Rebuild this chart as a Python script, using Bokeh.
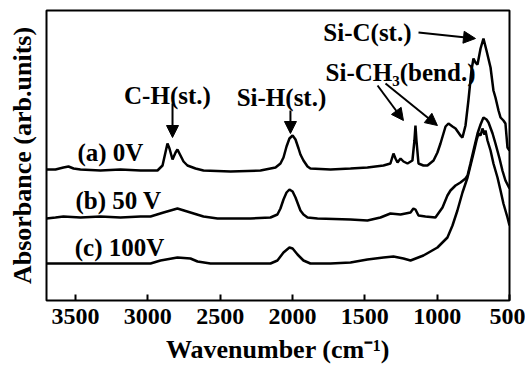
from bokeh.plotting import figure
from bokeh.models import Range1d, FixedTicker, Arrow, NormalHead, ColumnDataSource
from bokeh.core.properties import value
from bokeh.embed import file_html
from bokeh.resources import INLINE

# ---------------- data (wavenumber in cm^-1, absorbance in arb. units, offset per curve) -------------
wn_a = [3700, 3638, 3583, 3548, 3513, 3465, 3327, 3189, 3050, 2933, 2898, 2878, 2864, 2850,
        2829, 2808, 2795, 2774, 2753, 2726, 2670, 2615, 2428, 2221, 2117, 2083, 2062, 2041,
        2021, 1999, 1979, 1958, 1945, 1924, 1896, 1876, 1737, 1599, 1482, 1371, 1323, 1302,
        1288, 1274, 1253, 1233, 1205, 1171, 1157, 1150, 1143, 1129, 1095, 1067, 1025, 998,
        977, 942, 922, 894, 873, 839, 825, 804, 784, 763, 749, 735, 721, 700, 680, 659, 631,
        611, 597, 576, 562, 542, 528, 521, 514, 500]
ab_a = [131, 131, 133, 134, 132, 131, 130, 131, 130, 130, 135, 148, 157, 152,
        141, 148, 151, 145, 139, 135, 132, 130, 129, 130, 133, 137, 143, 154,
        162, 165, 161, 152, 146, 140, 134, 132, 131, 132, 133, 135, 137, 147,
        142, 138, 142, 139, 137, 140, 160, 175, 160, 137, 135, 135, 140, 148,
        157, 174, 177, 174, 172, 165, 163, 175, 200, 230, 242, 238, 236, 252, 262, 250, 233,
        210, 203, 190, 183, 180, 177, 165, 153, 150]

wn_b = [3700, 3638, 3583, 3465, 3327, 3189, 3050, 2981, 2891, 2795, 2705, 2615, 2518, 2290,
        2152, 2104, 2083, 2062, 2041, 2021, 1999, 1979, 1958, 1945, 1924, 1896, 1827, 1599,
        1482, 1392, 1323, 1253, 1184, 1164, 1150, 1129, 1081, 1012, 963, 929, 908, 873, 839,
        804, 790, 770, 749, 721, 700, 680, 659, 645, 617, 597, 569, 549, 528, 500]
ab_b = [82, 83, 84, 83, 84, 83, 84, 84, 88, 92, 88, 84, 82, 82,
        83, 86, 92, 101, 108, 111, 109, 103, 95, 90, 86, 83, 82, 81,
        80, 83, 87, 86, 88, 92, 91, 85, 84, 83, 93, 105, 110, 115, 118,
        122, 125, 137, 150, 167, 176, 183, 181, 178, 167, 157, 142, 130, 120, 112]

wn_c = [3700, 3465, 3189, 2981, 2912, 2795, 2705, 2656, 2567, 2290, 2152, 2104, 2062, 2021,
        1999, 1965, 1924, 1876, 1737, 1599, 1482, 1371, 1302, 1233, 1184, 1095, 998, 929,
        894, 860, 825, 790, 749, 728, 714, 700, 687, 673, 666, 652, 631, 611, 583, 562, 542,
        514, 500]
ab_c = [37, 37, 37, 37, 40, 43, 42, 39, 37, 37, 37, 40, 48, 53,
        52, 46, 40, 37, 37, 38, 41, 43, 44, 42, 40, 45, 53, 63,
        75, 90, 108, 123, 147, 160, 167, 165, 172, 166, 170, 160, 150, 137, 123, 110, 97,
        83, 75]

x_ticks = [3500, 3000, 2500, 2000, 1500, 1000, 500]

x_title = "Wavenumber (cm\u207b\u00b9)"
y_title = "Absorbance (arb.units)"

curve_labels = ["(a) 0V", "(b) 50 V", "(c) 100V"]
curve_label_x = [3258, 3202, 3195]
curve_label_y = [148, 100, 53]

band_labels = ["C-H(st.)", "Si-H(st.)", "Si-C(st.)", "Si-CH\u2083(bend.)"]
band_label_x = [2864, 2076, 1482, 1253]
band_label_y = [205, 203, 268, 228]

# arrows: (x_start, y_start, x_end, y_end)
arrows = [
    (2829, 197, 2829, 163),
    (2014, 190, 2014, 167),
    (1129, 268, 735, 262),
    (1412, 215, 1233, 180),
    (1357, 217, 998, 175),
]

FONT = "Liberation Serif"

p = figure(width=525, height=376, output_backend="svg", toolbar_location=None,
           x_range=Range1d(3700, 500), y_range=Range1d(0, 290),
           min_border_left=46, min_border_right=16, min_border_top=10, min_border_bottom=76)

p.xgrid.visible = False
p.ygrid.visible = False
p.outline_line_color = "black"
p.outline_line_width = 2
p.background_fill_color = "white"
p.border_fill_color = "white"

for wn, ab in [(wn_a, ab_a), (wn_b, ab_b), (wn_c, ab_c)]:
    p.line(wn, ab, line_color="black", line_width=2.5)

# x axis
xa = p.xaxis[0]
xa.ticker = FixedTicker(ticks=x_ticks)
xa.minor_tick_line_color = None
xa.major_tick_in = 6
xa.major_tick_out = 0
xa.major_tick_line_width = 2
xa.major_tick_line_color = "black"
xa.axis_line_color = None
xa.major_label_text_font = FONT
xa.major_label_text_font_style = "bold"
xa.major_label_text_font_size = "24px"
xa.major_label_text_color = "black"
xa.major_label_standoff = 8
xa.axis_label = x_title
xa.axis_label_text_font = FONT
xa.axis_label_text_font_style = "bold"
xa.axis_label_text_font_size = "26px"
xa.axis_label_text_color = "black"
xa.axis_label_standoff = 8

# y axis
ya = p.yaxis[0]
ya.ticker = FixedTicker(ticks=[])
ya.minor_tick_line_color = None
ya.major_tick_line_color = None
ya.axis_line_color = None
ya.axis_label = y_title
ya.axis_label_text_font = FONT
ya.axis_label_text_font_style = "bold"
ya.axis_label_text_font_size = "26px"
ya.axis_label_text_color = "black"
ya.axis_label_standoff = 10

src1 = ColumnDataSource(dict(x=curve_label_x, y=curve_label_y, t=curve_labels))
p.text(x="x", y="y", text="t", source=src1, text_font=value(FONT), text_font_style="bold",
       text_font_size="25px", text_align="center", text_baseline="middle", text_color="black")
src2 = ColumnDataSource(dict(x=band_label_x, y=band_label_y, t=band_labels))
p.text(x="x", y="y", text="t", source=src2, text_font=value(FONT), text_font_style="bold",
       text_font_size="25px", text_align="center", text_baseline="middle", text_color="black")

for (x0, y0, x1, y1) in arrows:
    p.add_layout(Arrow(end=NormalHead(size=12, fill_color="black", line_color="black", line_width=1),
                       x_start=x0, y_start=y0, x_end=x1, y_end=y1,
                       line_color="black", line_width=2))

open("out.html", "w").write(file_html(p, INLINE))
